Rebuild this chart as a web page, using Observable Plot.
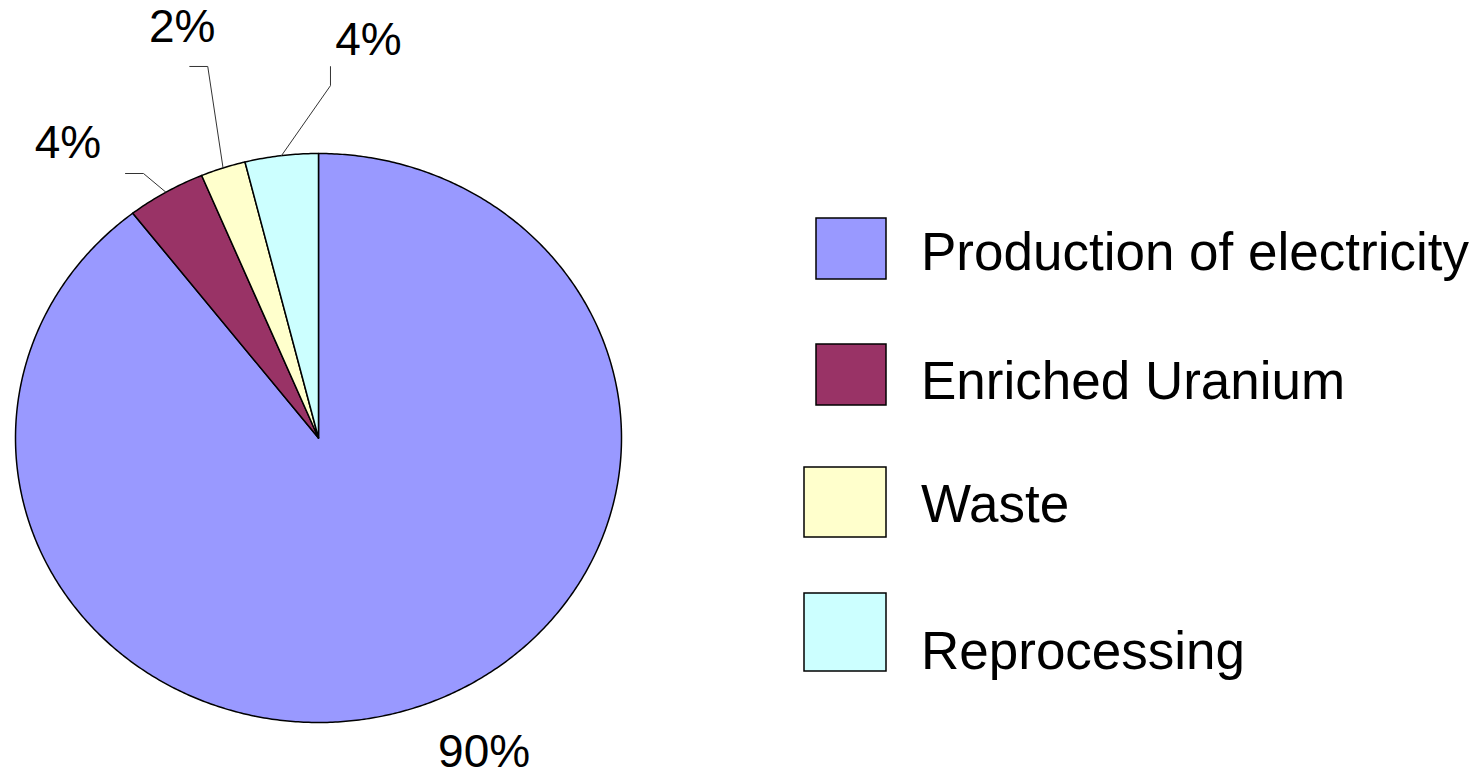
<!DOCTYPE html>
<html>
<head>
<meta charset="utf-8">
<script src="https://cdn.jsdelivr.net/npm/d3@7"></script>
<script src="https://cdn.jsdelivr.net/npm/@observablehq/plot@0.6"></script>
<style>
  html, body { margin: 0; padding: 0; background: #fff; }
  #chart { position: relative; width: 1475px; height: 778px; }
</style>
</head>
<body>
<div id="chart"></div>
<script>
// ---- data ----
const categories = ["Production of electricity", "Enriched Uranium", "Waste", "Reprocessing"];
const shares = [89.5, 4.2, 2.4, 3.9];
const colors = ["#9999FF", "#993366", "#FFFFCC", "#CCFFFF"];

// ---- layout (pixels) ----
const W = 1475, H = 778;
const cx = 318, cy = 437.5, rx = 303, ry = 284.5;
// label offset from each slice's mid-edge point, leader elbow and end (null = no leader)
const labelLayout = [
  {dx: 67.5, dy: 60, leader: null},
  {dx: -97.9, dy: -34.7, leader: [[-22.4, -18.7], [-40.4, -18.7]]},
  {dx: -40.8, dy: -125.5, leader: [[-15.3, -101.5], [-33.3, -101.5]]},
  {dx: 87, dy: -101, leader: [[49, -70], [49, -89]]}
];
const legendLayout = [
  {x: 816, y: 218, w: 70, h: 61, baseline: 270},
  {x: 816, y: 344, w: 70, h: 61, baseline: 399},
  {x: 804, y: 467, w: 82, h: 70, baseline: 522},
  {x: 804, y: 593, w: 82, h: 78, baseline: 669}
];

// ---- slice geometry in unit-circle coordinates ----
const total = d3.sum(shares);
let acc = 0;
const slices = categories.map((name, i) => {
  const a0 = acc / total * 2 * Math.PI;
  acc += shares[i];
  const a1 = acc / total * 2 * Math.PI;
  return {name, value: shares[i], a0, a1, mid: (a0 + a1) / 2, i};
});
const piePts = [];
for (const s of slices) {
  piePts.push({name: s.name, u: 0, v: 0});
  const n = Math.max(4, Math.ceil((s.a1 - s.a0) / (Math.PI / 360)));
  for (let k = 0; k <= n; k++) {
    const a = s.a0 + (s.a1 - s.a0) * k / n;
    piePts.push({name: s.name, u: Math.sin(a), v: Math.cos(a)});
  }
  piePts.push({name: s.name, u: 0, v: 0});
}
const pxU = d => d / rx, pxV = d => -d / ry;
const labels = slices.map(s => {
  const L = labelLayout[s.i];
  return {
    text: Math.round(s.value) + "%",
    u: Math.sin(s.mid) + pxU(L.dx),
    v: Math.cos(s.mid) + pxV(L.dy)
  };
});
const leaders = [];
slices.forEach(s => {
  const L = labelLayout[s.i];
  if (!L.leader) return;
  const u0 = Math.sin(s.mid), v0 = Math.cos(s.mid);
  leaders.push({name: s.name, u: u0, v: v0});
  for (const [ox, oy] of L.leader) leaders.push({name: s.name, u: u0 + pxU(ox), v: v0 + pxV(oy)});
});

const plot = Plot.plot({
  width: W, height: H,
  marginTop: 0, marginRight: 0, marginBottom: 0, marginLeft: 0,
  x: {domain: [-cx / rx, (W - cx) / rx], axis: null},
  y: {domain: [(cy - H) / ry, cy / ry], axis: null},
  color: {domain: categories, range: colors, legend: false},
  style: {background: "#fff", fontFamily: "'Liberation Sans', Arial, sans-serif"},
  marks: [
    Plot.line(piePts, {x: "u", y: "v", z: "name", fill: "name", stroke: "#000", strokeWidth: 1.5, strokeLinejoin: "round", curve: "linear"}),
    Plot.line(leaders, {x: "u", y: "v", z: "name", stroke: "#333", strokeWidth: 1}),
    Plot.text(labels, {x: "u", y: "v", text: "text", fontSize: 46, lineAnchor: "bottom", textAnchor: "middle", fill: "#000"})
  ]
});
document.getElementById("chart").appendChild(plot);

// ---- legend ----
const svg = d3.select(plot);
const lg = svg.append("g")
  .attr("font-family", "'Liberation Sans', Arial, sans-serif")
  .attr("text-anchor", "start");
categories.forEach((name, i) => {
  const L = legendLayout[i];
  lg.append("rect").attr("x", L.x).attr("y", L.y).attr("width", L.w).attr("height", L.h)
    .attr("fill", colors[i]).attr("stroke", "#000").attr("stroke-width", 1.5);
  lg.append("text").attr("x", 921).attr("y", L.baseline).attr("font-size", 53)
    .attr("text-anchor", "start").attr("fill", "#000").text(name);
});
</script>
</body>
</html>
